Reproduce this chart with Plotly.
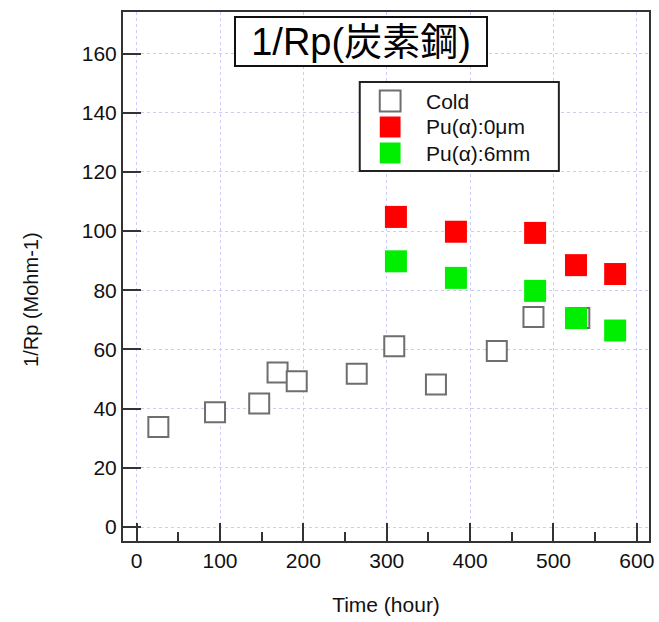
import plotly.graph_objects as go

# Polarization resistance data (1/Rp) for carbon steel over exposure time
cold_time = [26, 94, 147, 169, 192, 264, 309, 359, 432, 476, 531]
cold_val = [33.8, 38.8, 41.7, 52.2, 49.3, 51.8, 61.1, 48.2, 59.5, 71.0, 70.6]

pu0_time = [311, 383, 478, 527, 574]
pu0_val = [104.8, 99.8, 99.4, 88.5, 85.5]

pu6_time = [311, 383, 478, 527, 574]
pu6_val = [89.8, 84.2, 79.8, 70.6, 66.4]

series_names = ["Cold", "Pu(α):0μm", "Pu(α):6mm"]

x_ticks = [0, 100, 200, 300, 400, 500, 600]
y_ticks = [0, 20, 40, 60, 80, 100, 120, 140, 160]

LATIN = "Liberation Sans, Arial, Noto Sans CJK JP, sans-serif"
CJK = "Liberation Sans, Noto Sans CJK JP, sans-serif"

W, H = 659, 622
M_L, M_R, M_T, M_B = 123, 5, 12, 81
PLOT_W = W - M_L - M_R
PLOT_H = H - M_T - M_B


def px_x(px):
    """Horizontal page pixel -> paper fraction."""
    return (px - M_L) / PLOT_W


def px_y(py):
    """Vertical page pixel (from top) -> paper fraction."""
    return (H - M_B - py) / PLOT_H


styles = [
    dict(fill="white", line="#6e6e6e", lw=2, size=20),
    dict(fill="#ff0000", line="#ff0000", lw=0, size=22),
    dict(fill="#00ee00", line="#00ee00", lw=0, size=22),
]
series = [(cold_time, cold_val), (pu0_time, pu0_val), (pu6_time, pu6_val)]

fig = go.Figure()
for (xs, ys), name, st in zip(series, series_names, styles):
    fig.add_trace(go.Scatter(
        x=xs, y=ys, mode="markers", name=name, showlegend=False,
        marker=dict(symbol="square", size=st["size"], color=st["fill"],
                    line=dict(color=st["line"], width=st["lw"])),
    ))

axis_common = dict(
    showline=True, linecolor="#333333", linewidth=2, mirror=True,
    ticks="inside", ticklen=18, tickwidth=2, tickcolor="#333333",
    showgrid=True, gridcolor="#ccccf6", gridwidth=1, griddash="dot",
    zeroline=False,
    tickfont=dict(family=LATIN, size=21, color="#111111"),
)

fig.update_xaxes(
    range=[-16.4, 614.6], tickvals=x_ticks,
    minor=dict(dtick=50, tick0=0, ticks="inside", ticklen=9, tickwidth=2,
               tickcolor="#333333", showgrid=False),
    title=dict(text="Time (hour)", standoff=26,
               font=dict(family=LATIN, size=21, color="#111111")),
    **axis_common,
)
fig.update_yaxes(
    range=[-4.73, 174.06], tickvals=y_ticks,
    **axis_common,
)

fig.add_annotation(
    text="1/Rp (Mohm-1)", textangle=-90,
    xref="paper", yref="paper", x=px_x(30), y=px_y(300),
    xanchor="center", yanchor="middle", showarrow=False,
    font=dict(family=LATIN, size=20, color="#111111"),
)

# Boxed title inside the plot area
fig.add_annotation(
    text="1/Rp(炭素鋼)",
    xref="paper", yref="paper", x=px_x(363), y=px_y(41.5),
    xanchor="center", yanchor="middle", showarrow=False,
    width=248, height=45, align="center", valign="middle",
    font=dict(family=CJK, size=38, color="#000000"),
    bgcolor="white", bordercolor="#111111", borderwidth=2, borderpad=1,
)

# Legend panel drawn with shapes so the swatches match the marker size
shapes = [dict(
    type="rect", xref="paper", yref="paper",
    x0=px_x(362), x1=px_x(563), y0=px_y(171), y1=px_y(82),
    fillcolor="white", line=dict(color="#222222", width=2), layer="above",
)]
row_y = [101, 127, 153]
sw = 10.5
for name, st, cy in zip(series_names, styles, row_y):
    shapes.append(dict(
        type="rect", xref="paper", yref="paper",
        x0=px_x(392.7 - sw), x1=px_x(392.7 + sw),
        y0=px_y(cy + sw), y1=px_y(cy - sw),
        fillcolor=st["fill"],
        line=dict(color=st["line"], width=st["lw"] if st["lw"] else 0),
        layer="above",
    ))
    fig.add_annotation(
        text=name, xref="paper", yref="paper",
        x=px_x(427), y=px_y(cy), xanchor="left", yanchor="middle",
        showarrow=False,
        font=dict(family=CJK, size=21, color="#111111"),
    )

fig.update_layout(
    width=W, height=H,
    margin=dict(l=M_L, r=M_R, t=M_T, b=M_B),
    paper_bgcolor="white", plot_bgcolor="white",
    showlegend=False,
    shapes=shapes,
)

fig.write_html("out.html")
